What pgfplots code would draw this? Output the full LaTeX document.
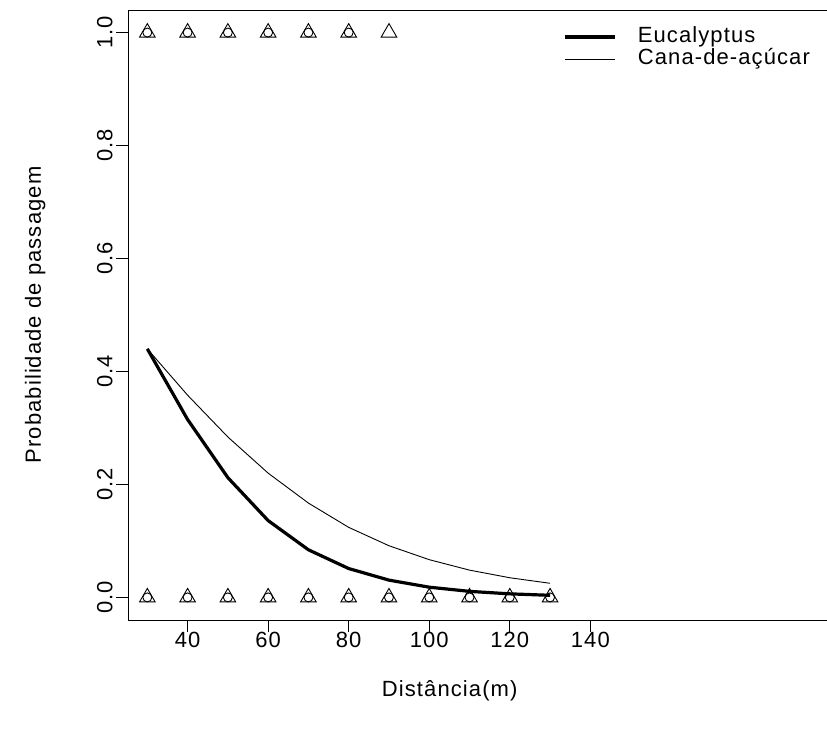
\documentclass[border=0pt]{standalone}
\usepackage{fontspec}
\setmainfont{Liberation Sans}[LetterSpace=5]
\usepackage{pgfplots}
\pgfplotsset{compat=1.18}

% fitted probabilities
\pgfplotstableread{
x   euc     cana
30  0.440   0.440
40  0.315   0.358
50  0.212   0.284
60  0.136   0.220
70  0.0843  0.167
80  0.0511  0.124
90  0.0306  0.0915
100 0.0181  0.0668
110 0.0107  0.0483
120 0.0063  0.0348
130 0.0037  0.0250
}\curves

\pgfplotstableread{
x   y
30  1
40  1
50  1
60  1
70  1
80  1
90  1
30  0
40  0
50  0
60  0
70  0
80  0
90  0
100 0
110 0
120 0
130 0
}\tri

\pgfplotstableread{
x   y
30  1
40  1
50  1
60  1
70  1
80  1
30  0
40  0
50  0
60  0
70  0
80  0
90  0
100 0
110 0
120 0
130 0
}\circ

\begin{document}
\begin{tikzpicture}
\begin{axis}[
  at={(0,0)}, anchor=south west,
  scale only axis,
  width=704pt, height=610pt,
  xmin=25.2, xmax=200,
  ymin=-0.04, ymax=1.04,
  xtick={40,60,...,140},
  ytick={0,0.2,...,1},
  tick pos=left,
  tick align=outside,
  major tick length=12pt,
  axis line style={line width=0.9pt},
  every tick/.style={black, line width=0.9pt},
  font=\fontsize{22}{26}\selectfont,
  /pgf/number format/assume math mode=true,
  xticklabel style={yshift=3pt},
  yticklabel style={rotate=90, anchor=south,
    /pgf/number format/fixed, /pgf/number format/fixed zerofill,
    /pgf/number format/precision=1},
  every axis y label/.style={at={(axis description cs:-0.132,0.5)}, rotate=90, anchor=center},
  every axis x label/.style={at={(axis description cs:0.457,-0.116)}, anchor=center},
  xlabel={Distância(m)},
  ylabel={Probabilidade de passagem},
  legend style={at={(axis description cs:0.618,0.974)}, anchor=north west,
    draw=none, fill=none, font=\fontsize{22}{26}\selectfont,
    row sep=0pt, inner sep=0pt,
    nodes={inner sep=1pt, text height=15pt, text depth=5pt}},
  legend cell align=left,
  legend image code/.code={\draw[#1] (0pt,0pt) -- (50pt,0pt); \path[draw=none] (72pt,0pt);},
]
\addplot[black, line width=3.2pt, line join=round] table[x=x, y=euc] {\curves};
\addlegendentry{Eucalyptus}
\addplot[black, line width=0.9pt] table[x=x, y=cana] {\curves};
\addlegendentry{Cana-de-açúcar}
\addplot[only marks, mark=triangle, mark size=9pt, mark options={black, line width=0.9pt}, forget plot] table {\tri};
\addplot[only marks, mark=o, mark size=4.5pt, mark options={black, line width=0.9pt}, forget plot] table {\circ};
\end{axis}
\pgfresetboundingbox
\path[use as bounding box] (-128pt,-127pt) rectangle (699pt,620pt);
\end{tikzpicture}
\end{document}
